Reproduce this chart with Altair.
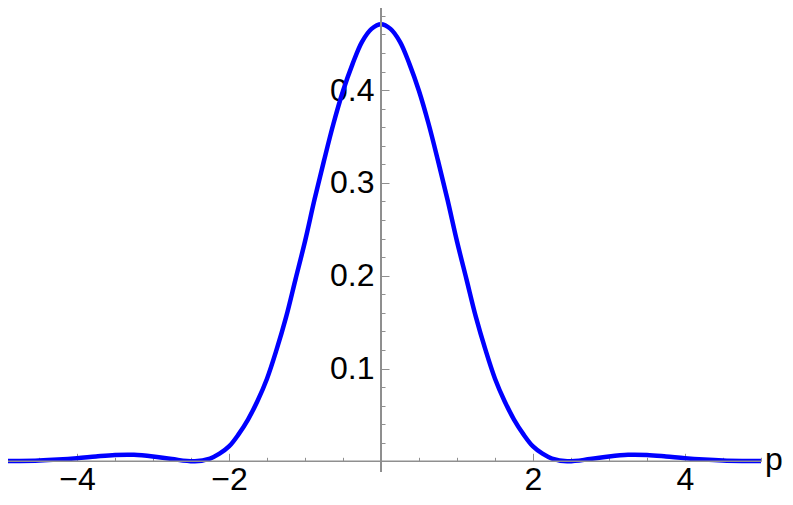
import altair as alt
import pandas as pd

# ---- data (right half read, left half mirrors it) ----
p_vals = [-5.0, -4.75, -4.5, -4.25, -4.0, -3.75, -3.5, -3.25, -3.0, -2.75, -2.45, -2.25,
          -2.125, -2.0, -1.875, -1.75, -1.625, -1.5, -1.375, -1.25, -1.125, -1.0,
          -0.875, -0.75, -0.625, -0.5, -0.375, -0.25, -0.125, 0.0,
          0.125, 0.25, 0.375, 0.5, 0.625, 0.75, 0.875, 1.0, 1.125, 1.25, 1.375, 1.5,
          1.625, 1.75, 1.875, 2.0, 2.125, 2.25, 2.45, 2.75,
          3.0, 3.25, 3.5, 3.75, 4.0, 4.25, 4.5, 4.75, 5.0]
density = [0.0002, 0.0004, 0.0009, 0.0019, 0.0033, 0.0052, 0.0068, 0.0070, 0.0052, 0.0024, 0.0, 0.0030,
           0.0082, 0.0160, 0.0290, 0.0450, 0.0650, 0.0890, 0.1200, 0.1550, 0.1960, 0.2370,
           0.2820, 0.3240, 0.3640, 0.3990, 0.4280, 0.4520, 0.4660, 0.4710,
           0.4660, 0.4520, 0.4280, 0.3990, 0.3640, 0.3240, 0.2820, 0.2370, 0.1960, 0.1550, 0.1200, 0.0890,
           0.0650, 0.0450, 0.0290, 0.0160, 0.0082, 0.0030, 0.0, 0.0024,
           0.0052, 0.0070, 0.0068, 0.0052, 0.0033, 0.0019, 0.0009, 0.0004, 0.0002]

x_label_ticks = [-4, -2, 2, 4]
y_label_ticks = [0.1, 0.2, 0.3, 0.4]
x_minor_ticks = [-5, -4.5, -4, -3.5, -3, -2.5, -2, -1.5, -1, -0.5,
                 0.5, 1, 1.5, 2, 2.5, 3, 3.5, 4, 4.5, 5]
y_minor_ticks = [0.02, 0.04, 0.06, 0.08, 0.1, 0.12, 0.14, 0.16, 0.18, 0.2,
                 0.22, 0.24, 0.26, 0.28, 0.3, 0.32, 0.34, 0.36, 0.38, 0.4,
                 0.42, 0.44, 0.46, 0.48]
axis_name = "p"

df = pd.DataFrame({"p": p_vals, "density": density})

W, H = 777, 492
X0_PIX = 373.0   # view x of p = 0
Y0_PIX = 453.3   # view y of density = 0
PX_PER_P = 76.0
PX_PER_D = 928.0
X_DOMAIN = [-X0_PIX / PX_PER_P, (W - X0_PIX) / PX_PER_P]
Y_DOMAIN = [(Y0_PIX - H) / PX_PER_D, Y0_PIX / PX_PER_D]
AXIS_COLOR = "#8f8f8f"
FONT = "Liberation Sans"
FS = 32

xs = alt.Scale(domain=X_DOMAIN, nice=False, zero=False)
ys = alt.Scale(domain=Y_DOMAIN, nice=False, zero=False)

x_tick_axis = alt.Axis(
    orient="top", offset=-Y0_PIX, values=x_minor_ticks, domain=False, labels=False,
    grid=False, title=None, tickColor=AXIS_COLOR, tickWidth=1,
    tickSize={"condition": {"test": "datum.value % 2 === 0", "value": 8}, "value": 4},
)
y_tick_axis = alt.Axis(
    orient="right", offset=X0_PIX - W, values=y_minor_ticks, domain=False, labels=False,
    grid=False, title=None, tickColor=AXIS_COLOR, tickWidth=1,
    tickSize={"condition": {"test": "abs(datum.value*10 - round(datum.value*10)) < 1e-6", "value": 8}, "value": 4},
)
x_label_axis = alt.Axis(
    orient="bottom", offset=Y0_PIX - H, values=x_label_ticks, domain=False, ticks=False,
    tickSize=0, grid=False, title=None, labelPadding=3, labelFont=FONT, labelFontSize=FS,
    labelColor="black", format="d",
)
y_label_axis = alt.Axis(
    orient="left", offset=-X0_PIX, values=y_label_ticks, domain=False, ticks=False,
    tickSize=0, grid=False, title=None, labelPadding=7, labelFont=FONT, labelFontSize=FS,
    labelColor="black", format=".1f",
)

curve = alt.Chart(df).mark_line(
    color="#0000ff", strokeWidth=4.5, interpolate="catmull-rom", clip=True
).encode(
    x=alt.X("p:Q", scale=xs, axis=x_tick_axis),
    y=alt.Y("density:Q", scale=ys, axis=y_tick_axis),
)

x_axis_line = alt.Chart(df).mark_rule(color=AXIS_COLOR, strokeWidth=1.4, clip=True).encode(
    x=alt.X("min(p):Q", scale=xs, axis=x_label_axis),
    x2="max(p):Q",
    y=alt.datum(0, axis=None),
)

y_axis_line = alt.Chart(df).mark_rule(color=AXIS_COLOR, strokeWidth=1.4, clip=True).encode(
    x=alt.datum(0, axis=None),
    y=alt.datum(-0.0115, axis=y_label_axis),
    y2=alt.datum(Y_DOMAIN[1]),
)

p_label = alt.Chart(df).mark_text(
    text=axis_name, font=FONT, fontSize=FS, align="left", baseline="alphabetic",
    dx=4, dy=9, color="black"
).encode(
    x=alt.X("max(p):Q", axis=None),
    y=alt.datum(0, axis=None),
)

chart = alt.layer(curve, x_axis_line, y_axis_line, p_label).resolve_axis(
    x="independent", y="independent"
).properties(
    width=W, height=H, padding=0, autosize=alt.AutoSizeParams(type="none")
).configure_view(stroke=None)

chart.save("out.html", embed_options={"renderer": "svg", "actions": False})
